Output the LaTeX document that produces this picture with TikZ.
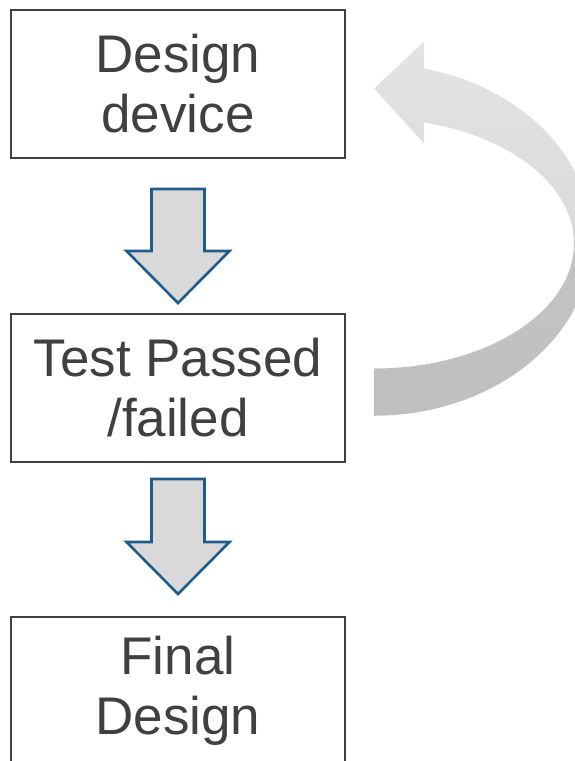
\documentclass[tikz,border=0pt]{standalone}
\usepackage{fontspec}
\setmainfont{Liberation Sans}
\usetikzlibrary{positioning,calc}
\definecolor{boxgray}{HTML}{404040}
\definecolor{txtgray}{HTML}{404040}
\definecolor{arrblue}{HTML}{1F5C8B}
\definecolor{arrfill}{HTML}{D9D9D9}
% light upper half, darker lower half
\pgfdeclareverticalshading{loopshade}{100bp}{color(0bp)=(gray!52); color(25bp)=(gray!50);
	color(46bp)=(gray!47); color(51bp)=(gray!28); color(75bp)=(gray!22); color(100bp)=(gray!22)}
\tikzset{
	stage/.style={draw=boxgray, line width=2pt, rectangle, minimum width=334pt,
		minimum height=148pt, align=center, inner sep=0pt, text=txtgray,
		font=\fontsize{53}{60}\selectfont},
	blk/.style={draw=arrblue, fill=arrfill, line width=2.6pt, line join=miter},
	loop/.style={shading=loopshade, draw=none}
}
\begin{document}
\begin{tikzpicture}[x=1pt, y=-1pt]
	\useasboundingbox (0,0) rectangle (574,761);

	\node[stage] (design) at (178,84) {Design\\device};
	\node[stage, below=154pt of design] (test) {Test Passed\\/failed};
	\node[stage, below=153pt of test] (final) {Final\\Design};

	% block arrows between the stages
	\coordinate (a1) at ($(design.south)+(0,30)$);
	\coordinate (a2) at ($(test.south)+(0,16)$);
	\draw[blk] ($(a1)+(-26.5,0)$) -- ++(0,62) -- ++(-25,0) -- ++(51.5,52)
		-- ++(51.5,-52) -- ++(-25,0) -- ++(0,-62) -- cycle;
	\draw[blk] ($(a2)+(-26.5,0)$) -- ++(0,63) -- ++(-25,0) -- ++(51.5,52)
		-- ++(51.5,-52) -- ++(-25,0) -- ++(0,-63) -- cycle;

	% feedback arrow back to the design step
	\coordinate (back) at ($(test.east)+(28,-19.5)$);
	\shade[loop] (back) arc[start angle=90, end angle=-75.5, x radius=200, y radius=125]
		-- ++(0,21) -- ++(-50,-55) -- ++(50,-47) -- ++(0,27)
		arc[start angle=-76.7, end angle=90, x radius=218, y radius=176] -- cycle;
\end{tikzpicture}
\end{document}
